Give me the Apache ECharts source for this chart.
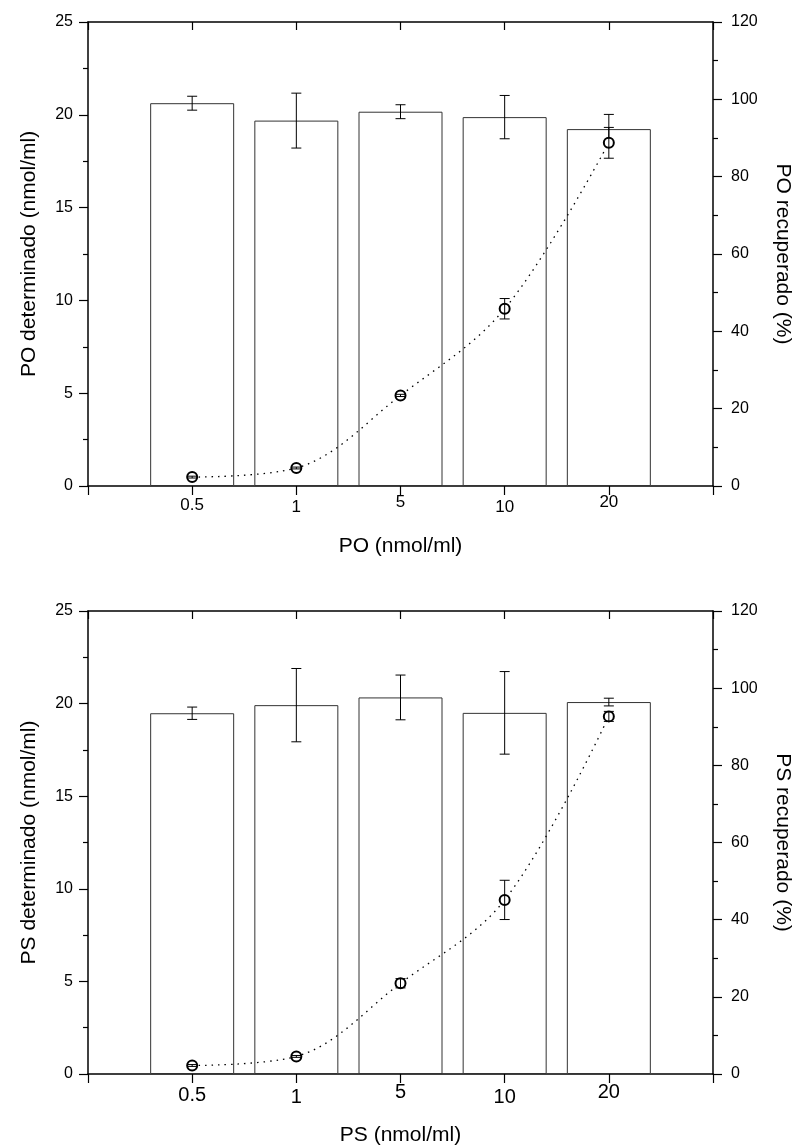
<!DOCTYPE html>
<html>
<head>
<meta charset="utf-8">
<script src="https://cdn.jsdelivr.net/npm/echarts@6/dist/echarts.min.js"></script>
<style>
  html, body { margin: 0; padding: 0; background: #fff; }
  #main { width: 797px; height: 1148px; }
</style>
</head>
<body>
<div id="main"></div>
<script>
// concentrations added (x categories)
var cats = ['0.5', '1', '5', '10', '20'];
// top panel: PO
var poDet = [0.48, 0.97, 4.88, 9.55, 18.49];
var poDetErr = [0.05, 0.05, 0.06, 0.55, 0.83];
var poRec = [99.0, 94.5, 96.8, 95.4, 92.3];
var poRecErr = [1.8, 7.1, 1.8, 5.6, 3.8];
// bottom panel: PS
var psDet = [0.46, 0.95, 4.9, 9.4, 19.31];
var psDetErr = [0.05, 0.05, 0.25, 1.06, 0.27];
var psRec = [93.5, 95.6, 97.6, 93.6, 96.4];
var psRecErr = [1.6, 9.5, 5.8, 10.7, 1.0];
// small vertical shifts of the x tick labels, as in the original
var labelShift = [3, 5, 0, 5, 0];

var FONT = 'Liberation Sans, Arial, sans-serif';

function pts(vals) {
    return vals.map(function (v, i) { return [i + 1, v]; });
}
function errs(vals, e) {
    return vals.map(function (v, i) { return [i + 1, v, e[i]]; });
}

function errorRender(params, api) {
    var x = api.value(0), y = api.value(1), e = api.value(2);
    var hi = api.coord([x, y + e]);
    var lo = api.coord([x, y - e]);
    var w = 5;
    var st = { stroke: '#000', lineWidth: 1 };
    return {
        type: 'group',
        children: [
            { type: 'line', shape: { x1: hi[0], y1: hi[1], x2: lo[0], y2: lo[1] }, style: st },
            { type: 'line', shape: { x1: hi[0] - w, y1: hi[1], x2: hi[0] + w, y2: hi[1] }, style: st },
            { type: 'line', shape: { x1: lo[0] - w, y1: lo[1], x2: lo[0] + w, y2: lo[1] }, style: st }
        ]
    };
}

var rich = {};
labelShift.forEach(function (d, i) {
    rich['s' + i] = { padding: [d, 0, 0, 0] };
});

var axisLine = { show: true, onZero: false, lineStyle: { color: '#000', width: 1.5 } };
var tickStyle = { color: '#000', width: 1.2 };

function xAxes(g, name, labelSize, gap) {
    return [{
        type: 'value', gridIndex: g, position: 'bottom',
        min: 0, max: 6, interval: 1,
        name: name, nameLocation: 'middle', nameGap: gap,
        nameTextStyle: { fontFamily: FONT, fontSize: 21, color: '#000' },
        axisLine: axisLine,
        axisTick: { show: true, inside: false, length: 9, lineStyle: tickStyle },
        splitLine: { show: false },
        axisLabel: {
            margin: 8, color: '#000', fontFamily: FONT, fontSize: labelSize,
            rich: rich,
            formatter: function (v) {
                var i = Math.round(v) - 1;
                if (i < 0 || i >= cats.length) return '';
                return '{s' + i + '|' + cats[i] + '}';
            }
        }
    }, {
        type: 'value', gridIndex: g, position: 'top',
        min: 0, max: 6, interval: 1,
        axisLine: axisLine,
        axisTick: { show: true, inside: true, length: 8, lineStyle: tickStyle },
        axisLabel: { show: false },
        splitLine: { show: false }
    }];
}

function yAxes(g, leftName, rightName) {
    return [{
        type: 'value', gridIndex: g, position: 'left',
        min: 0, max: 25, interval: 5,
        name: leftName, nameLocation: 'middle', nameGap: 48, nameRotate: 90,
        nameTextStyle: { fontFamily: FONT, fontSize: 21, color: '#000' },
        axisLine: axisLine,
        axisTick: { show: true, inside: false, length: 9, lineStyle: tickStyle },
        minorTick: { show: true, splitNumber: 2, length: 5, lineStyle: tickStyle },
        splitLine: { show: false },
        axisLabel: { margin: 15, color: '#000', fontFamily: FONT, fontSize: 16 }
    }, {
        type: 'value', gridIndex: g, position: 'right',
        min: 0, max: 120, interval: 20,
        name: rightName, nameLocation: 'middle', nameGap: 59, nameRotate: -90,
        nameTextStyle: { fontFamily: FONT, fontSize: 21, color: '#000' },
        axisLine: axisLine,
        axisTick: { show: true, inside: false, length: 9, lineStyle: tickStyle },
        minorTick: { show: true, splitNumber: 2, length: 5, lineStyle: tickStyle },
        splitLine: { show: false },
        axisLabel: { margin: 18, color: '#000', fontFamily: FONT, fontSize: 16 }
    }];
}

function panel(g, det, detErr, rec, recErr) {
    var xb = g * 2, yl = g * 2, yr = g * 2 + 1;
    return [{
        type: 'bar', xAxisIndex: xb, yAxisIndex: yr,
        data: pts(rec), barWidth: 84,
        itemStyle: { color: '#fff', borderColor: '#333', borderWidth: 1 },
        silent: true, z: 1
    }, {
        type: 'custom', xAxisIndex: xb, yAxisIndex: yr,
        data: errs(rec, recErr), renderItem: errorRender,
        encode: { x: 0, y: 1 }, z: 3
    }, {
        type: 'line', xAxisIndex: xb, yAxisIndex: yl,
        data: pts(det), smooth: 0.35,
        symbol: 'emptyCircle', symbolSize: 10, showSymbol: true,
        itemStyle: { color: '#000', borderColor: '#000', borderWidth: 1 },
        lineStyle: { color: '#000', width: 1.3, type: [1.5, 5] },
        z: 4
    }, {
        type: 'custom', xAxisIndex: xb, yAxisIndex: yl,
        data: errs(det, detErr), renderItem: errorRender,
        encode: { x: 0, y: 1 }, z: 5
    }];
}

var myChart = echarts.init(document.getElementById('main'));
var option = {
    backgroundColor: '#fff',
    animation: false,
    grid: [
        { left: 88, top: 22, width: 625, height: 464, outerBoundsMode: 'none' },
        { left: 88, top: 611, width: 625, height: 463, outerBoundsMode: 'none' }
    ],
    xAxis: xAxes(0, 'PO (nmol/ml)', 17, 50).concat(xAxes(1, 'PS (nmol/ml)', 20, 51)),
    yAxis: yAxes(0, 'PO determinado (nmol/ml)', 'PO recuperado (%)')
        .concat(yAxes(1, 'PS determinado (nmol/ml)', 'PS recuperado (%)')),
    series: panel(0, poDet, poDetErr, poRec, poRecErr)
        .concat(panel(1, psDet, psDetErr, psRec, psRecErr))
};
myChart.setOption(option);
</script>
</body>
</html>
